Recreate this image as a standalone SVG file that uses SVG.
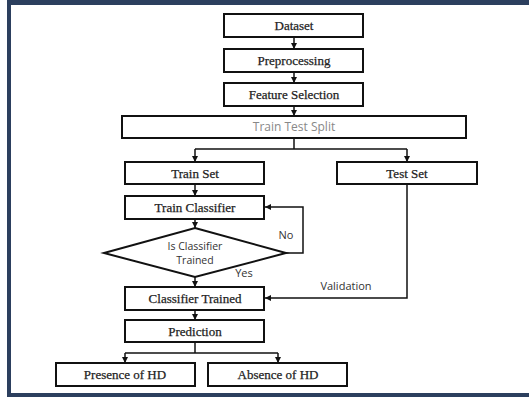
<svg xmlns="http://www.w3.org/2000/svg" width="529" height="397" viewBox="0 0 529 397">
<defs>
<marker id="ah" viewBox="0 0 10 10" refX="10" refY="5" markerWidth="6" markerHeight="6" markerUnits="userSpaceOnUse" orient="auto">
<path d="M0,0 L10,5 L0,10 z" fill="#111"/>
</marker>
<style>
.box{fill:#fff;stroke:#111;stroke-width:2}
.st{font-family:"Liberation Serif","Times New Roman",serif;font-size:13px;fill:#222;stroke:#222;stroke-width:0.25;text-anchor:middle}
.ss{font-family:"Open Sans","Liberation Sans",sans-serif;font-size:11px;fill:#333;text-anchor:middle}
.ln{fill:none;stroke:#111;stroke-width:1.5}
.frame{fill:#2c3f5e}
</style>
</defs>
<rect width="529" height="397" fill="#fff"/>
<g id="frame">
<rect class="frame" x="7" y="0" width="522" height="5"/>
<rect class="frame" x="7" y="0" width="4" height="397"/>
<rect class="frame" x="7" y="393" width="522" height="4"/>
</g>
<g id="connectors">
<path class="ln" d="M294,37 V49" marker-end="url(#ah)"/>
<path class="ln" d="M294,72 V83" marker-end="url(#ah)"/>
<path class="ln" d="M294,106 V116" marker-end="url(#ah)"/>
<path class="ln" d="M294,138 V149"/>
<path class="ln" d="M195,149 H407"/>
<path class="ln" d="M195,149 V162" marker-end="url(#ah)"/>
<path class="ln" d="M407,149 V162" marker-end="url(#ah)"/>
<path class="ln" d="M195,184 V196" marker-end="url(#ah)"/>
<path class="ln" d="M195,219 V228" marker-end="url(#ah)"/>
<path class="ln" d="M286,253 H303 V207 H265" marker-end="url(#ah)"/>
<path class="ln" d="M195,277 V287" marker-end="url(#ah)"/>
<path class="ln" d="M407,184 V298 H265" marker-end="url(#ah)"/>
<path class="ln" d="M195,310 V320" marker-end="url(#ah)"/>
<path class="ln" d="M195,342 V353"/>
<path class="ln" d="M125,353 H278"/>
<path class="ln" d="M125,353 V363" marker-end="url(#ah)"/>
<path class="ln" d="M278,353 V363" marker-end="url(#ah)"/>
<text class="ss" x="286" y="239">No</text>
<text class="ss" x="244" y="277">Yes</text>
<text class="ss" x="346" y="290">Validation</text>
</g>
<g id="dataset"><rect class="box" x="224" y="14" width="139" height="23"/><text class="st" x="294" y="30">Dataset</text></g>
<g id="preprocessing"><rect class="box" x="224" y="49" width="139" height="23"/><text class="st" x="294" y="65">Preprocessing</text></g>
<g id="feature-selection"><rect class="box" x="224" y="83" width="139" height="23"/><text class="st" x="294" y="99">Feature Selection</text></g>
<g id="train-test-split"><rect class="box" x="122" y="116" width="344" height="22"/><text class="ss" x="294" y="131" style="font-size:12px;fill:#888">Train Test Split</text></g>
<g id="train-set"><rect class="box" x="125" y="162" width="139" height="22"/><text class="st" x="195" y="178">Train Set</text></g>
<g id="test-set"><rect class="box" x="337" y="162" width="140" height="22"/><text class="st" x="407" y="178">Test Set</text></g>
<g id="train-classifier"><rect class="box" x="125" y="196" width="139" height="23"/><text class="st" x="195" y="212">Train Classifier</text></g>
<g id="is-trained"><path class="box" d="M195,228 L286,253 L195,277 L104,253 z"/><text class="ss" x="195" y="250" style="font-size:10.5px">Is Classifier</text><text class="ss" x="195" y="264" style="font-size:10.5px">Trained</text></g>
<g id="classifier-trained"><rect class="box" x="125" y="287" width="139" height="23"/><text class="st" x="195" y="303">Classifier Trained</text></g>
<g id="prediction"><rect class="box" x="125" y="320" width="139" height="22"/><text class="st" x="195" y="336">Prediction</text></g>
<g id="presence"><rect class="box" x="56" y="363" width="139" height="23"/><text class="st" x="125" y="379">Presence of HD</text></g>
<g id="absence"><rect class="box" x="208" y="363" width="139" height="23"/><text class="st" x="278" y="379">Absence of HD</text></g>
</svg>
